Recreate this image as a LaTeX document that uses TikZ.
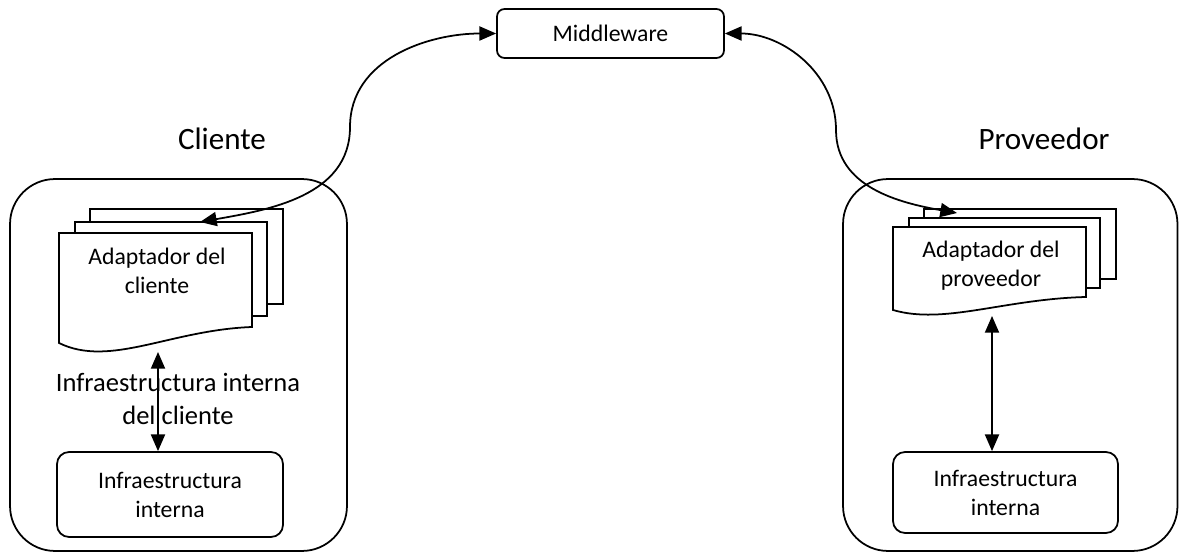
\documentclass[tikz,border=0pt]{standalone}
\usepackage{fontspec}
\setmainfont{Carlito}
\usetikzlibrary{arrows.meta,positioning}
\newcommand{\letrachica}{\fontsize{13.5}{16.5}\selectfont}
\newcommand{\letragrande}{\fontsize{15.1}{18.8}\selectfont}
\newcommand{\letratitulo}{\fontsize{17.7}{21}\selectfont}

\begin{document}
\begin{tikzpicture}[x=0.02cm,y=-0.02cm,line width=1pt,>={Triangle[length=9.5pt,width=8pt]}]
	\useasboundingbox (0,0) rectangle (1179,553);
	% bloques exteriores
	\node[draw,rounded corners=0.9cm,minimum width=6.74cm,minimum height=7.44cm] (bcli) at (178.5,365) {};
	\node[draw,rounded corners=0.9cm,minimum width=6.69cm,minimum height=7.44cm] (bprov) at (1010.25,365) {};
	\node[font=\letratitulo,anchor=base] (tcli) at (222,150) {Cliente};
	\node[font=\letratitulo,anchor=base] (tprov) at (1044,150) {Proveedor};
	\node[draw,rounded corners=0.15cm,minimum width=4.54cm,minimum height=0.98cm,font=\letrachica] (mw) at (610.5,33.5) {Middleware};
	% documentos del cliente
	\draw[fill=white] (90,209) rectangle (283,304);
	\draw[fill=white] (75,222) rectangle (267,316);
	\draw[fill=white] (59,233) -- (252,233) -- (252,327) .. controls (170,330) and (110,368) .. (59,343) -- cycle;
	\node[font=\letrachica,align=center] (adcli) at (157,271) {Adaptador del\\cliente};
	% documentos del proveedor
	\draw[fill=white] (924,209) rectangle (1116,279);
	\draw[fill=white] (909,218) rectangle (1100,288);
	\draw[fill=white] (893,227) -- (1086,227) -- (1086,297) .. controls (1004,299) and (944,325) .. (893,310) -- cycle;
	\node[font=\letrachica,align=center] (adprov) at (991,266) {Adaptador del\\proveedor};
	% infraestructura
	\node[draw,rounded corners=0.24cm,minimum width=4.52cm,minimum height=1.7cm,font=\letrachica,align=center] (icli) at (170,494.5) {Infraestructura\\interna};
	\node[draw,rounded corners=0.24cm,minimum width=4.5cm,minimum height=1.62cm,font=\letrachica,align=center] (iprov) at (1005.5,492.5) {Infraestructura\\interna};
	\node[font=\letragrande,align=center] (etq) at (178,399) {Infraestructura interna\\del cliente};
	\coordinate (adcbot) at (158,352);
	\coordinate (adpbot) at (992,316);
	\draw[<->] (adcbot) -- (adcbot |- icli.north);
	\draw[<->] (adpbot) -- (adpbot |- iprov.north);
	% conexiones con el middleware
	\coordinate (adctip) at (200,222);
	\coordinate (adptip) at (957,213);
	\draw[<->] (adctip) to[out=10,in=-90] (350,127) to[out=90,in=180] (mw.west);
	\draw[<->] (adptip) to[out=170,in=-90] (836,130) to[out=90,in=0] (mw.east);
\end{tikzpicture}
\end{document}
